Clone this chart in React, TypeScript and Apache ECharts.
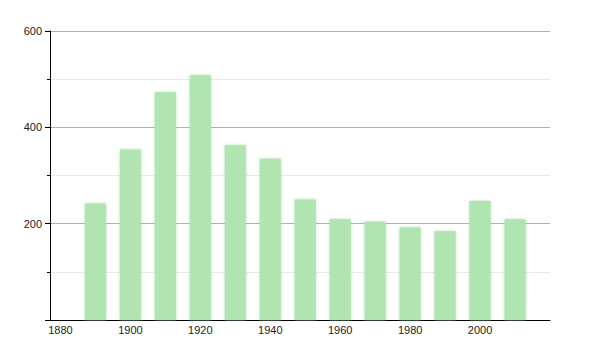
import React, { useEffect, useRef } from "react";
import * as echarts from "echarts";

const years = [1890, 1900, 1910, 1920, 1930, 1940, 1950, 1960, 1970, 1980, 1990, 2000, 2010];
const population = [242, 354, 473, 508, 363, 335, 250, 209, 204, 192, 184, 247, 209];
const xTickLabels = [1880, 1900, 1920, 1940, 1960, 1980, 2000];

export default function App() {
  const ref = useRef<HTMLDivElement>(null);
  useEffect(() => {
    if (!ref.current) return;
    const chart = echarts.init(ref.current, null, { renderer: "svg" });
    chart.setOption({
      animation: false,
      grid: { left: 50, right: 50, top: 31, bottom: 30, containLabel: false },
      xAxis: {
        type: "value",
        min: 1877,
        max: 2020,
        axisLine: { show: true, onZero: false, lineStyle: { color: "#000", width: 1 } },
        axisTick: { show: false },
        splitLine: { show: false },
        axisLabel: {
          customValues: xTickLabels,
          color: "#222",
          fontSize: 11,
          fontFamily: "Liberation Sans, Arial, sans-serif",
          margin: 4,
          formatter: (v: number) => String(v),
        },
      },
      yAxis: {
        type: "value",
        min: 0,
        max: 600,
        interval: 200,
        axisLine: { show: true, lineStyle: { color: "#000", width: 1 } },
        axisTick: { show: true, length: 5, lineStyle: { color: "#000" } },
        minorTick: { show: true, splitNumber: 2, length: 3, lineStyle: { color: "#000" } },
        splitLine: { show: true, lineStyle: { color: "#b0b0b0", width: 1 } },
        minorSplitLine: { show: true, lineStyle: { color: "#e8e8e8", width: 1 } },
        axisLabel: {
          color: "#222",
          fontSize: 11,
          fontFamily: "Liberation Sans, Arial, sans-serif",
          margin: 8,
          formatter: (v: number) => (v === 0 ? "" : String(v)),
        },
      },
      series: [
        {
          type: "bar",
          data: years.map((y, i) => [y, population[i]]),
          barWidth: 21,
          itemStyle: {
            color: "#b0e4b0",
            shadowColor: "rgba(160,215,160,0.8)",
            shadowBlur: 3,
          },
        },
      ],
    });
    return () => chart.dispose();
  }, []);
  return (
    <div
      ref={ref}
      style={{ position: "fixed", left: 0, top: 0, width: 600, height: 350, background: "#fff" }}
    />
  );
}
